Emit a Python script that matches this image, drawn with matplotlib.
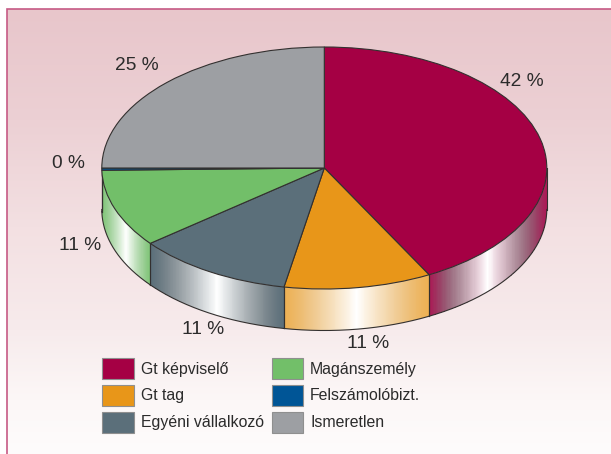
import numpy as np
import matplotlib
matplotlib.use("Agg")
import matplotlib.pyplot as plt
from matplotlib.patches import Patch
from matplotlib.colors import to_rgb

plt.rcParams['font.family'] = ['Liberation Sans', 'DejaVu Sans']

categories = ["Gt képviselő", "Gt tag", "Egyéni vállalkozó", "Magánszemély", "Felszámolóbizt.", "Ismeretlen"]
values = [42.2, 10.7, 11.4, 10.4, 0.3, 25.0]
value_labels = ["42 %", "11 %", "11 %", "11 %", "0 %", "25 %"]
colors = ["#A50044", "#E89619", "#5B6F7A", "#72BF69", "#005596", "#9D9FA3"]
edge_mix = [0.10, 0.25, 0.0, 0.10, 0.0, 0.0]
edge_desat = [0.6, 0.1, 0.35, 0.1, 0.0, 0.0]
label_px = [(522, 81), (368, 344), (203, 330), (80, 245), (68, 163), (137, 66)]

W, H = 611, 454
CX, CY, RX, RY, DEPTH = 324.3, 168.0, 222.5, 121.0, 41.5
EDGE = "#33302f"

fig = plt.figure(figsize=(W / 100, H / 100), dpi=100)

# background
bg = fig.add_axes([0, 0, 1, 1])
bg.set_xlim(0, W)
bg.set_ylim(H, 0)
bg.axis("off")
ys = np.arange(9, H + 1)
stops_y = [9, 120, 227, 330, 400, 454]
stops = np.array([(232, 198, 203), (236, 208, 212), (243, 224, 226), (247, 235, 236), (252, 247, 247), (254, 252, 252)]) / 255
grad = np.stack([np.interp(ys, stops_y, stops[:, i]) for i in range(3)], axis=1)[:, None, :]
bg.imshow(grad, extent=(7, W, H, 9), aspect="auto", interpolation="bilinear", zorder=0)
bg.set_xlim(0, W)
bg.set_ylim(H, 0)
bg.plot([7, 7, W], [H, 9, 9], color="#C65A85", lw=1.2, zorder=1, solid_joinstyle="miter")

# pie: unit ellipse in a full-figure axes
ax = fig.add_axes([0, 0, 1, 1], facecolor="none")
wedges, _ = ax.pie(values, colors=colors, startangle=90, counterclock=False, radius=1.0,
                   wedgeprops=dict(edgecolor=EDGE, linewidth=0.8), frame=False)
for w in wedges:
    w.set_zorder(5)
ax.set_aspect("auto")
ax.set_frame_on(False)
ax.set_xticks([])
ax.set_yticks([])

# side wall of the visible front half
d = DEPTH / RY
bounds = np.concatenate([[0], np.cumsum(values)]) / np.sum(values) * 360
for i, col in enumerate(colors):
    a0, a1 = max(bounds[i], 90), min(bounds[i + 1], 270)
    if a1 <= a0:
        continue
    th = np.radians(np.linspace(a0, a1, 160))
    x, y = np.sin(th), np.cos(th)
    X = np.vstack([x, x])
    Y = np.vstack([y, y - d])
    t = (x - x.min()) / (x.max() - x.min())
    tm = 0.5 * (t[:-1] + t[1:])
    w = 1 - np.abs(2 * tm - 1)
    mix = edge_mix[i] + (1 - edge_mix[i]) * w ** 1.3
    rgb = np.array(to_rgb(col))
    grey = np.full(3, rgb @ np.array([0.3, 0.59, 0.11]))
    desat = edge_desat[i] * np.sin(np.pi * w)[:, None]
    base = rgb[None, :] * (1 - desat) + grey[None, :] * desat
    cols = base * (1 - mix[:, None]) + mix[:, None]
    ax.pcolormesh(X, Y, cols[None, :, :], shading="flat", zorder=3, linewidth=0, antialiased=False)
    ax.plot(x, y - d, color=EDGE, lw=0.8, zorder=4)
    ax.plot([x[0], x[0]], [y[0], y[0] - d], color=EDGE, lw=0.8, zorder=4)
    ax.plot([x[-1], x[-1]], [y[-1], y[-1] - d], color=EDGE, lw=0.8, zorder=4)
ax.set_xlim((0 - CX) / RX, (W - CX) / RX)
ax.set_ylim((CY - H) / RY, CY / RY)

# value labels
for (px, py), s in zip(label_px, value_labels):
    fig.text(px / W, 1 - py / H, s, ha="center", va="center", fontsize=13.8, color="#2b2b2b")

# legend (reads column-wise)
handles = [Patch(facecolor=c, edgecolor="#8f8f8f", linewidth=0.8) for c in colors]
leg = fig.legend(handles, categories, ncol=2, loc="upper left",
                 bbox_to_anchor=(102 / W, 1 - 358 / H), frameon=False,
                 fontsize=11.4, labelcolor="#2b2b2b", borderpad=0, borderaxespad=0,
                 handlelength=2.0, handleheight=1.67, handletextpad=0.44,
                 labelspacing=0.36, columnspacing=0.5)

fig.savefig("out.png", dpi=100, facecolor="white")
